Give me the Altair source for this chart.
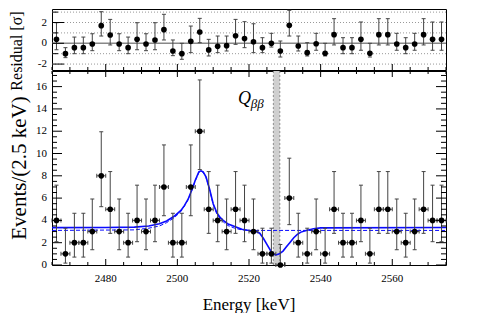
import altair as alt
import pandas as pd

FONT = "Liberation Serif"

# ---------------- data ----------------
energy = [2466.25, 2468.75, 2471.25, 2473.75, 2476.25, 2478.75, 2481.25, 2483.75, 2486.25, 2488.75,
          2491.25, 2493.75, 2496.25, 2498.75, 2501.25, 2503.75, 2506.25, 2508.75, 2511.25, 2513.75,
          2516.25, 2518.75, 2521.25, 2523.75, 2526.25, 2528.75, 2531.25, 2533.75, 2536.25, 2538.75,
          2541.25, 2543.75, 2546.25, 2548.75, 2551.25, 2553.75, 2556.25, 2558.75, 2561.25, 2563.75,
          2566.25, 2568.75, 2571.25, 2573.75]
counts = [4, 1, 2, 2, 3, 8, 5, 3, 2, 4,
          3, 4, 7, 2, 2, 7, 12, 5, 4, 3,
          5, 4, 3, 1, 1, 0, 6, 2, 1, 3,
          1, 5, 2, 2, 4, 1, 5, 5, 3, 2,
          3, 5, 4, 4]
# error-bar ends read per count value
err_low = {0: 0.0, 1: 0.17, 2: 0.71, 3: 1.37, 4: 2.09, 5: 2.84, 6: 3.62, 7: 4.42, 8: 5.23, 12: 8.56}
err_high = {0: 1.84, 1: 3.30, 2: 4.64, 3: 5.92, 4: 7.16, 5: 8.38, 6: 9.58, 7: 10.77, 8: 11.95, 12: 16.6}
bin_half = 1.25

resid = [0.38, -1.0, -0.42, -0.42, -0.07, 1.7, 0.8, -0.07, -0.42, 0.38,
         -0.07, 0.32, 1.31, -0.74, -1.0, 0.19, 1.09, -0.64, -0.29, -0.23,
         0.73, 0.45, 0.15, -0.42, 0.0, -0.74, 1.73, -0.26, -0.9, -0.04,
         -0.96, 0.83, -0.42, -0.42, 0.38, -0.96, 0.83, 0.83, -0.07, -0.42,
         -0.07, 0.83, 0.38, 0.38]
resid_hi = [1.98, -0.42, 0.6, 0.6, 0.92, 3.04, 2.3, 0.92, 0.6, 1.98,
            0.92, 1.98, 2.79, 0.32, 0.0, 1.66, 2.4, 0.38, 0.7, 0.7,
            2.3, 2.08, 1.88, 0.54, 0.96, 0.22, 3.17, 0.7, 0.06, 0.96,
            0.0, 2.37, 0.54, 0.54, 2.05, 0.0, 2.37, 2.37, 0.96, 0.54,
            0.96, 2.37, 2.05, 2.05]
resid_lo = [-0.62, -1.38, -1.0, -1.0, -0.71, 0.7, -0.16, -0.71, -1.0, -0.62,
            -0.71, -0.62, 0.32, -1.19, -1.54, -0.9, 0.06, -1.22, -0.9, -0.74,
            -0.1, -0.42, -0.9, -0.9, -0.36, -1.32, 0.7, -0.74, -1.22, -0.67,
            -1.22, -0.16, -1.0, -1.0, -0.67, -1.32, -0.16, -0.16, -0.67, -1.0,
            -0.67, -0.16, -0.67, -0.67]

# fitted curves
fit_E = [2465, 2480, 2488, 2492, 2495, 2497, 2499, 2501, 2502, 2503, 2504, 2505, 2506, 2506.6,
         2507.2, 2508, 2509, 2510, 2511, 2512, 2513, 2514, 2516, 2518, 2520, 2522, 2523,
         2524, 2525, 2526, 2527, 2527.5, 2528.5, 2529.5, 2530.5, 2531.5, 2532.5,
         2533.5, 2534.5, 2536, 2538, 2540, 2575]
fit_total = [3.35, 3.36, 3.4, 3.5, 3.7, 3.95, 4.35, 4.9, 5.35, 5.9, 6.7, 7.6, 8.35, 8.45,
             8.35, 7.9, 6.8, 5.5, 4.7, 4.25, 3.95, 3.7, 3.45, 3.2, 3.1, 3.0, 2.85,
             2.4, 1.85, 1.3, 0.95, 0.9, 1.0, 1.25, 1.65, 2.05, 2.45,
             2.75, 2.95, 3.1, 3.25, 3.33, 3.36]
bkg_E = [2465, 2488, 2492, 2495, 2497, 2499, 2501, 2502, 2503, 2504, 2505, 2506, 2506.6,
         2507.2, 2508, 2509, 2510, 2511, 2512, 2513, 2514, 2516, 2518, 2520, 2575]
fit_bkg = [3.1, 3.15, 3.3, 3.5, 3.8, 4.2, 4.8, 5.3, 5.85, 6.65, 7.55, 8.3, 8.42,
           8.3, 7.85, 6.75, 5.45, 4.6, 4.15, 3.8, 3.55, 3.3, 3.15, 3.1, 3.1]

q_band = [2526.8, 2528.6]
q_label = ["Q", "ββ"]
q_label_x = [2516.9, 2520.5]
q_label_y = [14.45, 14.1]

x_title = "Energy [keV]"
y_title = "Events/(2.5 keV)"
res_title = "Residual [σ]"

x_major = [2480, 2500, 2520, 2540, 2560]
x_minor = [2465, 2470, 2475, 2485, 2490, 2495, 2505, 2510, 2515, 2525, 2530, 2535,
           2545, 2550, 2555, 2565, 2570, 2575]
y_major_main = [0, 2, 4, 6, 8, 10, 12, 14, 16]
y_minor_main = [0.5, 1, 1.5, 2.5, 3, 3.5, 4.5, 5, 5.5, 6.5, 7, 7.5, 8.5, 9, 9.5, 10.5, 11, 11.5,
                12.5, 13, 13.5, 14.5, 15, 15.5, 16.5, 17]
y_major_res = [-2, 0, 2]
y_minor_res = [-1, 1, 3]
res_grid = [-2, -1, 1, 2, 3]

# ---------------- layout ----------------
W, H_RES, H_MAIN = 394, 61, 194

df = pd.DataFrame({
    "E": energy, "n": counts,
    "lo": [err_low[c] for c in counts], "hi": [err_high[c] for c in counts],
    "r": resid, "rlo": resid_lo, "rhi": resid_hi,
})
df["Elo"] = df["E"] - bin_half
df["Ehi"] = df["E"] + bin_half

xs = alt.Scale(domain=[2465, 2575], nice=False, zero=False)
ys = alt.Scale(domain=[0, 17.4], nice=False, zero=False)
rys = alt.Scale(domain=[-2.57, 3.3], nice=False, zero=False)

BAR = "#444444"
BLUE = "#0a0aff"


def xtick_layer(vals, y0, y1):
    return alt.Chart(pd.DataFrame({"t": vals})).mark_rule(color="black", strokeWidth=1).encode(
        x=alt.X("t:Q", scale=xs, axis=None), y=alt.value(y0), y2=alt.value(y1))


def ytick_layer(vals, scale, x0, x1):
    return alt.Chart(pd.DataFrame({"t": vals})).mark_rule(color="black", strokeWidth=1).encode(
        y=alt.Y("t:Q", scale=scale, axis=None), x=alt.value(x0), x2=alt.value(x1))


def xlabel_layer(vals, ypix):
    d = pd.DataFrame({"t": vals, "s": [str(v) for v in vals]})
    return alt.Chart(d).mark_text(font=FONT, fontSize=11, baseline="top", align="center",
                                  color="black").encode(
        x=alt.X("t:Q", scale=xs, axis=None), y=alt.value(ypix), text="s:N")


def ylabel_layer(vals, scale):
    d = pd.DataFrame({"t": vals, "s": [str(v) for v in vals]})
    return alt.Chart(d).mark_text(font=FONT, fontSize=11, baseline="middle", align="right",
                                  color="black").encode(
        y=alt.Y("t:Q", scale=scale, axis=None), x=alt.value(-5), text="s:N")


def title_layer(text, xpix, ypix, size, angle=0, baseline="alphabetic"):
    return alt.Chart(pd.DataFrame({"s": [text]})).mark_text(
        font=FONT, fontSize=size, angle=angle, baseline=baseline, align="center",
        color="black").encode(x=alt.value(xpix), y=alt.value(ypix), text="s:N")


band = alt.Chart(pd.DataFrame({"a": [q_band[0]], "b": [q_band[1]]})).mark_rect(
    color="#cfcfcf").encode(
    x=alt.X("a:Q", scale=xs, axis=None), x2="b:Q",
    y=alt.value(0), y2=alt.value(H_MAIN))
band_edges = alt.Chart(pd.DataFrame({"q": q_band})).mark_rule(
    color="#777777", strokeDash=[2, 2], strokeWidth=0.8).encode(
    x=alt.X("q:Q", scale=xs, axis=None))

dashed = alt.Chart(pd.DataFrame({"E": bkg_E, "v": fit_bkg})).mark_line(
    color=BLUE, strokeWidth=1, strokeDash=[4, 2]).encode(
    x=alt.X("E:Q", scale=xs, axis=None),
    y=alt.Y("v:Q", scale=ys, axis=None))
solid = alt.Chart(pd.DataFrame({"E": fit_E, "v": fit_total})).mark_line(
    color=BLUE, strokeWidth=1.6).encode(
    x=alt.X("E:Q", scale=xs, axis=None),
    y=alt.Y("v:Q", scale=ys, axis=None))

base = alt.Chart(df)
vbar = base.mark_rule(color=BAR, strokeWidth=1).encode(
    x=alt.X("E:Q", scale=xs, axis=None), y=alt.Y("lo:Q", scale=ys, axis=None), y2="hi:Q")
vcap1 = base.mark_tick(orient="horizontal", size=4, thickness=1, color=BAR, opacity=1).encode(
    x=alt.X("E:Q", scale=xs, axis=None), y=alt.Y("lo:Q", scale=ys, axis=None))
vcap2 = base.mark_tick(orient="horizontal", size=4, thickness=1, color=BAR, opacity=1).encode(
    x=alt.X("E:Q", scale=xs, axis=None), y=alt.Y("hi:Q", scale=ys, axis=None))
hbar = base.mark_rule(color=BAR, strokeWidth=1).encode(
    x=alt.X("Elo:Q", scale=xs, axis=None), x2="Ehi:Q", y=alt.Y("n:Q", scale=ys, axis=None))
hcap1 = base.mark_tick(orient="vertical", size=4, thickness=1, color=BAR, opacity=1).encode(
    x=alt.X("Elo:Q", scale=xs, axis=None), y=alt.Y("n:Q", scale=ys, axis=None))
hcap2 = base.mark_tick(orient="vertical", size=4, thickness=1, color=BAR, opacity=1).encode(
    x=alt.X("Ehi:Q", scale=xs, axis=None), y=alt.Y("n:Q", scale=ys, axis=None))
pts = base.mark_circle(size=32, color="black", opacity=1).encode(
    x=alt.X("E:Q", scale=xs, axis=None), y=alt.Y("n:Q", scale=ys, axis=None))

qdf = pd.DataFrame({"t": q_label, "x": q_label_x, "y": q_label_y, "fs": [18, 13]})
qtext = alt.Chart(qdf).mark_text(font=FONT, fontStyle="italic", align="left",
                                 baseline="alphabetic", color="black").encode(
    x=alt.X("x:Q", scale=xs, axis=None), y=alt.Y("y:Q", scale=ys, axis=None),
    text="t:N", size=alt.Size("fs:Q", scale=None, legend=None))

main_ticks = [
    xtick_layer(x_major, H_MAIN, H_MAIN - 6), xtick_layer(x_minor, H_MAIN, H_MAIN - 3),
    xtick_layer(x_major, 0, 6), xtick_layer(x_minor, 0, 3),
    ytick_layer(y_major_main, ys, 0, 10), ytick_layer(y_minor_main, ys, 0, 5),
    ytick_layer(y_major_main, ys, W, W - 10), ytick_layer(y_minor_main, ys, W, W - 5),
]
main_text = [
    xlabel_layer(x_major, H_MAIN + 8),
    ylabel_layer(y_major_main, ys),
    title_layer(x_title, W / 2, H_MAIN + 45, 17),
    title_layer(y_title, -43, H_MAIN / 2, 21, angle=270, baseline="top"),
]

main = alt.layer(band, band_edges, dashed, solid, vbar, vcap1, vcap2, hbar, hcap1, hcap2,
                 pts, qtext, *main_ticks, *main_text).properties(width=W, height=H_MAIN)

# residual panel
grid = alt.Chart(pd.DataFrame({"g": res_grid})).mark_rule(
    color="#999999", strokeDash=[1, 2], strokeWidth=1).encode(
    y=alt.Y("g:Q", scale=rys, axis=None))
zero = alt.Chart(pd.DataFrame({"g": [0]})).mark_rule(color="#888888", strokeWidth=1.6).encode(
    y=alt.Y("g:Q", scale=rys, axis=None))
rbar = base.mark_rule(color=BAR, strokeWidth=1).encode(
    x=alt.X("E:Q", scale=xs, axis=None), y=alt.Y("rlo:Q", scale=rys, axis=None), y2="rhi:Q")
rcap1 = base.mark_tick(orient="horizontal", size=4, thickness=1, color=BAR, opacity=1).encode(
    x=alt.X("E:Q", scale=xs, axis=None), y=alt.Y("rlo:Q", scale=rys, axis=None))
rcap2 = base.mark_tick(orient="horizontal", size=4, thickness=1, color=BAR, opacity=1).encode(
    x=alt.X("E:Q", scale=xs, axis=None), y=alt.Y("rhi:Q", scale=rys, axis=None))
rpts = base.mark_circle(size=32, color="black", opacity=1).encode(
    x=alt.X("E:Q", scale=xs, axis=None), y=alt.Y("r:Q", scale=rys, axis=None))

res_ticks = [
    xtick_layer(x_major, H_RES, H_RES - 6), xtick_layer(x_minor, H_RES, H_RES - 3),
    ytick_layer(y_major_res, rys, 0, 12), ytick_layer(y_minor_res, rys, 0, 6),
]
res_text = [
    ylabel_layer(y_major_res, rys),
    title_layer(res_title, -43, 42, 16, angle=270, baseline="top"),
]

res = alt.layer(grid, zero, rbar, rcap1, rcap2, rpts, *res_ticks, *res_text).properties(
    width=W, height=H_RES)

chart = alt.vconcat(res, main, spacing=1, bounds="flush").properties(
    padding={"left": 0, "top": 0, "right": 5, "bottom": 0}
).configure_view(stroke="black", strokeWidth=1)

chart.save("out.html", embed_options={"renderer": "svg", "actions": False})
